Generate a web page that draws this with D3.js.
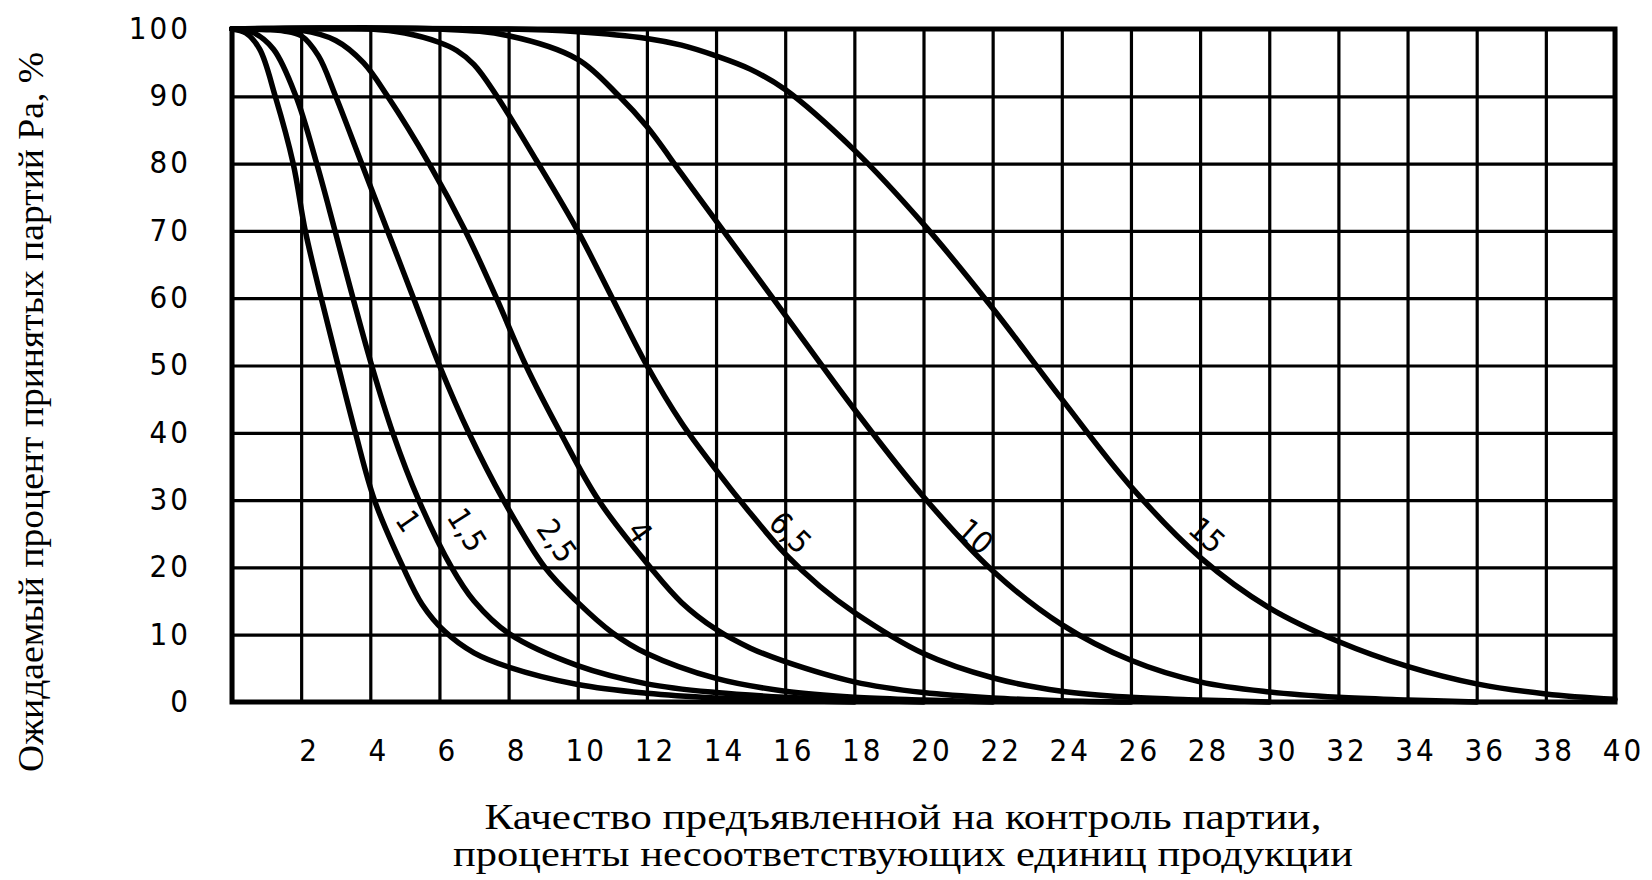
<!DOCTYPE html>
<html>
<head>
<meta charset="utf-8">
<script src="https://cdn.jsdelivr.net/npm/d3@7"></script>
<style>
  body { margin: 0; background: #fff; }
  .tick text { font-family: 'DejaVu Sans Condensed', 'DejaVu Sans', sans-serif; font-stretch: condensed; fill: #000; }
  .title { font-family: 'Liberation Serif', 'Times New Roman', serif; fill: #000; }
  .curve-label { font-family: 'DejaVu Sans Condensed', 'DejaVu Sans', sans-serif; font-stretch: condensed; fill: #000; }
</style>
</head>
<body>
<script>
// tick labels
let xTicks = [2, 4, 6, 8, 10, 12, 14, 16, 18, 20, 22, 24, 26, 28, 30, 32, 34, 36, 38, 40]
let yTicks = [0, 10, 20, 30, 40, 50, 60, 70, 80, 90, 100]
let gridX = [0, 2, 4, 6, 8, 10, 12, 14, 16, 18, 20, 22, 24, 26, 28, 30, 32, 34, 36, 38, 40]

// curve names (AQL)
let curveNames = ['1', '1,5', '2,5', '4', '6,5', '10', '15']

// x = percent nonconforming, pa = percent accepted
let x_1 = [0, 0.4, 0.8, 1.25, 1.77, 2.12, 2.58, 3.07, 3.57, 4.12, 4.95, 5.5, 6.15, 7, 8, 10, 12, 14, 16, 18]
let pa_1 = [100, 99.4, 97, 90, 80, 70, 60, 50, 40, 30, 20, 14.5, 10.5, 7.3, 5.2, 2.6, 1.3, 0.6, 0.25, 0]

let x_15 = [0, 0.6, 1.2, 1.85, 2.45, 2.98, 3.5, 4.04, 4.65, 5.4, 6.35, 7, 8, 10, 12, 14, 16, 18, 20]
let pa_15 = [100, 99.5, 97, 90, 80, 70, 60, 50, 40, 30, 20, 15, 10.2, 5.4, 2.7, 1.4, 0.7, 0.3, 0]

let x_25 = [0, 1, 1.5, 2, 2.5, 3, 3.75, 4.5, 5.25, 6.0, 6.85, 7.85, 9.05, 10, 11, 12, 14, 16, 18, 20, 22]
let pa_25 = [100, 99.9, 99.7, 99, 96, 90, 80, 70, 60, 50, 40, 30, 20, 14.8, 10.3, 7.2, 3.5, 1.6, 0.7, 0.3, 0]

let x_4 = [0, 2, 3, 3.8, 4.5, 5.7, 6.75, 7.65, 8.5, 9.5, 10.6, 12.1, 13, 14, 15, 16, 18, 20, 22, 24, 26]
let pa_4 = [100, 99.8, 98.3, 95, 90, 80, 70, 60, 50, 40, 30, 20, 14.8, 10.8, 8, 6, 3, 1.4, 0.6, 0.2, 0]

let x_65 = [0, 4, 5, 6, 6.5, 7, 7.6, 8.8, 10, 11, 12, 13, 14, 15, 16, 17, 18, 20, 22, 24, 26, 28, 30]
let pa_65 = [100, 100, 99.4, 98, 96.8, 94.7, 90.5, 80.5, 70, 60, 50, 41.5, 34.5, 28, 22, 17.2, 13.3, 7.2, 3.6, 1.6, 0.7, 0.3, 0]

let x_10 = [0, 6, 8, 10, 11.2, 12, 13, 14, 16, 18, 20, 22, 24, 26, 28, 30, 32, 34, 36]
let pa_10 = [100, 100, 99, 95.5, 90, 85.5, 78.5, 71.5, 57.5, 43.5, 30.5, 19.5, 11.5, 6.2, 3, 1.5, 0.7, 0.3, 0]

let x_150 = [0, 8, 10, 12, 13, 14, 15, 16, 18, 20, 22, 24, 26, 28, 30, 32, 34, 36, 38, 40]
let pa_150 = [100, 100, 99.6, 98.6, 97.6, 96, 94, 91, 82, 71, 58.5, 45, 32, 21.5, 14, 9, 5.3, 2.7, 1.2, 0.4]

// where the curve numbers sit (x, pa)
let labelX = [5.1, 6.8, 9.4, 11.8, 16.15, 21.5, 28.2]
let labelPa = [26.9, 25.6, 24, 25.3, 25.2, 24.6, 24.8]

let curves = [
  [x_1, pa_1], [x_15, pa_15], [x_25, pa_25], [x_4, pa_4],
  [x_65, pa_65], [x_10, pa_10], [x_150, pa_150]
].map(([xs, ys]) => xs.map((x, i) => ({ x: x, pa: ys[i] })))

let width = 1652
let height = 880
let plotLeft = 232
let plotRight = 1615
let plotTop = 29
let plotBottom = 702

let svg = d3.select('body')
  .append('svg')
  .attr('width', width)
  .attr('height', height)

let xScale = d3.scaleLinear().domain([0, 40]).range([plotLeft, plotRight])
let yScale = d3.scaleLinear().domain([0, 100]).range([plotBottom, plotTop])

// grid
let gx = svg.append('g')
  .attr('transform', `translate(0, ${plotBottom})`)
  .call(d3.axisBottom(xScale).tickValues(gridX).tickSize(-(plotBottom - plotTop)).tickFormat(''))
gx.select('.domain').remove()
gx.selectAll('line').attr('stroke', '#000').attr('stroke-width', 3.2)

let gy = svg.append('g')
  .attr('transform', `translate(${plotLeft}, 0)`)
  .call(d3.axisLeft(yScale).tickValues(yTicks).tickSize(-(plotRight - plotLeft)).tickFormat(''))
gy.select('.domain').remove()
gy.selectAll('line').attr('stroke', '#000').attr('stroke-width', 3.2)

// frame
svg.append('rect')
  .attr('x', plotLeft)
  .attr('y', plotTop)
  .attr('width', plotRight - plotLeft)
  .attr('height', plotBottom - plotTop)
  .attr('fill', 'none')
  .attr('stroke', '#000')
  .attr('stroke-width', 5)

// curves
let line = d3.line()
  .x(d => xScale(d.x))
  .y(d => yScale(d.pa))
  .curve(d3.curveCatmullRom.alpha(0.5))

svg.selectAll('.oc')
  .data(curves)
  .enter()
  .append('path')
  .attr('class', 'oc')
  .attr('d', line)
  .attr('fill', 'none')
  .attr('stroke', '#000')
  .attr('stroke-width', 5.5)
  .attr('stroke-linejoin', 'round')
  .attr('stroke-linecap', 'round')

// curve numbers
let labelAngles = [55, 58, 55, 55, 45, 42, 42]
svg.selectAll('.curve-label')
  .data(curveNames)
  .enter()
  .append('text')
  .attr('class', 'curve-label')
  .attr('text-anchor', 'middle')
  .attr('dominant-baseline', 'central')
  .attr('font-size', 31)
  .attr('transform', (d, i) =>
    `translate(${xScale(labelX[i])}, ${yScale(labelPa[i])}) rotate(${labelAngles[i]})`)
  .text(d => d)

// tick labels
let xAxis = svg.append('g')
  .attr('transform', `translate(0, ${plotBottom})`)
  .call(d3.axisBottom(xScale).tickValues(xTicks).tickSize(0).tickPadding(37))
xAxis.select('.domain').remove()
xAxis.selectAll('text')
  .attr('font-size', 31)
  .attr('dx', 8)
  .style('letter-spacing', '3px')

let yAxis = svg.append('g')
  .attr('transform', `translate(${plotLeft}, 0)`)
  .call(d3.axisLeft(yScale).tickValues(yTicks).tickSize(0).tickPadding(41))
yAxis.select('.domain').remove()
yAxis.selectAll('text')
  .attr('font-size', 31)
  .attr('dy', '0.3em')
  .style('letter-spacing', '3px')

// titles
let xTitle = svg.append('text')
  .attr('class', 'title')
  .attr('text-anchor', 'middle')
  .attr('font-size', 35)
xTitle.append('tspan')
  .attr('x', 903).attr('y', 829)
  .attr('textLength', 837).attr('lengthAdjust', 'spacingAndGlyphs')
  .text('Качество предъявленной на контроль партии,')
xTitle.append('tspan')
  .attr('x', 903).attr('y', 866)
  .attr('textLength', 900).attr('lengthAdjust', 'spacingAndGlyphs')
  .text('проценты несоответствующих единиц продукции')

svg.append('text')
  .attr('class', 'title')
  .attr('text-anchor', 'middle')
  .attr('font-size', 36)
  .attr('transform', `translate(43, 412) rotate(-90)`)
  .attr('textLength', 720).attr('lengthAdjust', 'spacingAndGlyphs')
  .text('Ожидаемый процент принятых партий Ра, %')
</script>
</body>
</html>
